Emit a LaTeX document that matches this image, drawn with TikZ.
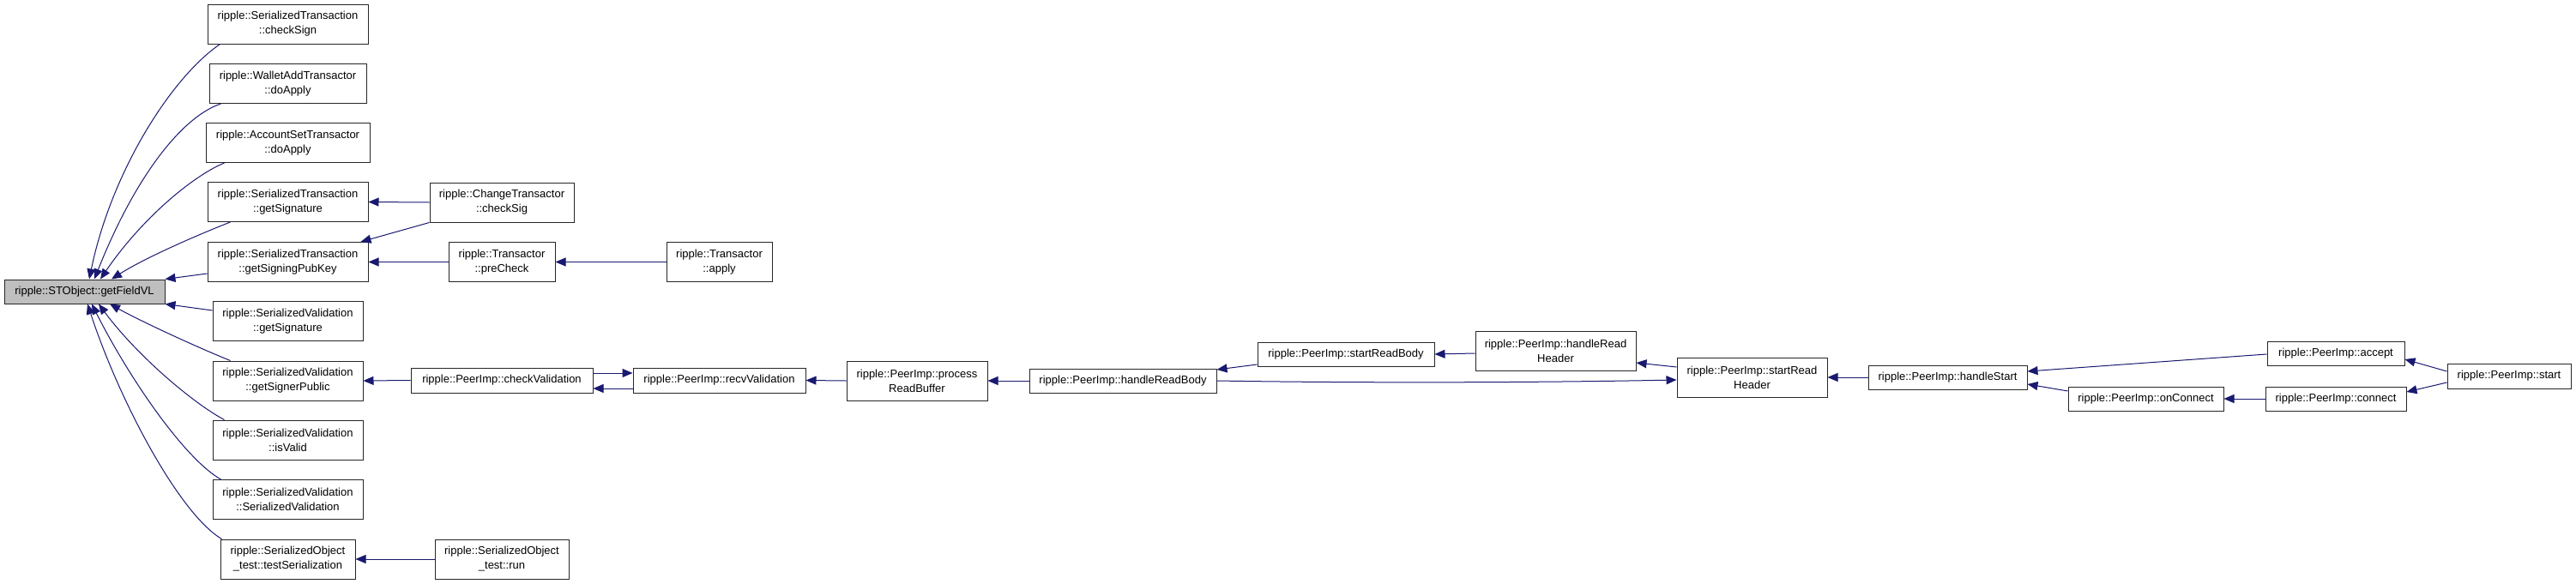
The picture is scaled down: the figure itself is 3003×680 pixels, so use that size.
\documentclass[tikz,border=0pt]{standalone}
\usepackage{fontspec}
\setmainfont{Liberation Sans}
\usetikzlibrary{arrows.meta}
\definecolor{edgecol}{RGB}{25,25,112}
\definecolor{nodegray}{RGB}{191,191,191}
\begin{document}
\begin{tikzpicture}[x=1pt,y=-1pt,
  box/.style={draw=black!85, line width=1pt, inner sep=0pt, align=center,
    font=\fontsize{13}{17}\selectfont},
  edge/.style={draw=edgecol, line width=1pt, -{Triangle[length=12pt,width=10pt]}}]
\useasboundingbox (0,0) rectangle (3003,680);

% column 0
\node[box, fill=nodegray, minimum width=187pt, minimum height=28pt] (getFieldVL) at (98.5,340) {ripple::STObject::getFieldVL};

% column 1
\node[box, minimum width=187pt, minimum height=46pt] (checkSign) at (335.5,28) {ripple::SerializedTransaction\\::checkSign};
\node[box, minimum width=183pt, minimum height=46pt] (walletAdd) at (335.5,97.5) {ripple::WalletAddTransactor\\::doApply};
\node[box, minimum width=191pt, minimum height=46pt] (accountSet) at (335.5,166.5) {ripple::AccountSetTransactor\\::doApply};
\node[box, minimum width=187pt, minimum height=46pt] (stGetSig) at (335.5,235.5) {ripple::SerializedTransaction\\::getSignature};
\node[box, minimum width=187pt, minimum height=46pt] (getSigningPubKey) at (335.5,305.5) {ripple::SerializedTransaction\\::getSigningPubKey};
\node[box, minimum width=175pt, minimum height=46pt] (svGetSig) at (335.5,374.5) {ripple::SerializedValidation\\::getSignature};
\node[box, minimum width=175pt, minimum height=46pt] (getSignerPublic) at (335.5,444) {ripple::SerializedValidation\\::getSignerPublic};
\node[box, minimum width=175pt, minimum height=46pt] (isValid) at (335.5,513) {ripple::SerializedValidation\\::isValid};
\node[box, minimum width=175pt, minimum height=46pt] (svCtor) at (335.5,582.5) {ripple::SerializedValidation\\::SerializedValidation};
\node[box, minimum width=157pt, minimum height=46pt] (testSer) at (335.5,652) {ripple::SerializedObject\\\_test::testSerialization};

% column 2
\node[box, minimum width=168pt, minimum height=46pt] (changeCheckSig) at (585,236) {ripple::ChangeTransactor\\::checkSig};
\node[box, minimum width=124pt, minimum height=46pt] (preCheck) at (585,305.5) {ripple::Transactor\\::preCheck};
\node[box, minimum width=212pt, minimum height=29pt] (checkValidation) at (585,443.5) {ripple::PeerImp::checkValidation};
\node[box, minimum width=156pt, minimum height=46pt] (run) at (585,652) {ripple::SerializedObject\\\_test::run};

% column 3
\node[box, minimum width=123pt, minimum height=46pt] (apply) at (838.5,305.5) {ripple::Transactor\\::apply};
\node[box, minimum width=201pt, minimum height=29pt] (recvValidation) at (838.5,443.5) {ripple::PeerImp::recvValidation};

% further columns
\node[box, minimum width=164pt, minimum height=46pt] (processReadBuffer) at (1069,444) {ripple::PeerImp::process\\ReadBuffer};
\node[box, minimum width=218pt, minimum height=28pt] (handleReadBody) at (1309,444) {ripple::PeerImp::handleReadBody};
\node[box, minimum width=206pt, minimum height=28pt] (startReadBody) at (1569,413) {ripple::PeerImp::startReadBody};
\node[box, minimum width=187pt, minimum height=46pt] (handleReadHeader) at (1813.5,409) {ripple::PeerImp::handleRead\\Header};
\node[box, minimum width=175pt, minimum height=46pt] (startReadHeader) at (2042.5,440) {ripple::PeerImp::startRead\\Header};
\node[box, minimum width=185pt, minimum height=28pt] (handleStart) at (2270.5,440) {ripple::PeerImp::handleStart};
\node[box, minimum width=181pt, minimum height=28pt] (onConnect) at (2501.5,465) {ripple::PeerImp::onConnect};
\node[box, minimum width=160pt, minimum height=28pt] (accept) at (2723,412) {ripple::PeerImp::accept};
\node[box, minimum width=164pt, minimum height=28pt] (connect) at (2723,465) {ripple::PeerImp::connect};
\node[box, minimum width=144pt, minimum height=29pt] (start) at (2925,438.5) {ripple::PeerImp::start};

% edges into getFieldVL
\draw[edge] ([xshift=15pt]checkSign.south west) .. controls (200,90) and (130,200) .. ([xshift=5.5pt]getFieldVL.north);
\draw[edge] ([xshift=14pt]walletAdd.south west) .. controls (215,135) and (160,200) .. ([xshift=11.5pt]getFieldVL.north);
\draw[edge] ([xshift=22pt]accountSet.south west) .. controls (225,205) and (165,255) .. ([xshift=18.5pt]getFieldVL.north);
\draw[edge] ([xshift=27pt]stGetSig.south west) .. controls (235,272) and (170,300) .. ([xshift=31.5pt]getFieldVL.north);
\draw[edge] ([yshift=-13.5pt]getSigningPubKey.west) -- (getFieldVL.north east);
\draw[edge] ([yshift=12.5pt]svGetSig.west) -- (getFieldVL.south east);
\draw[edge] ([xshift=21pt]getSignerPublic.north west) .. controls (230,405) and (165,375) .. ([xshift=29.5pt]getFieldVL.south);
\draw[edge] ([xshift=14pt]isValid.north west) .. controls (225,470) and (160,415) .. ([xshift=16.5pt]getFieldVL.south);
\draw[edge] ([xshift=10pt]svCtor.north west) .. controls (215,535) and (150,440) .. ([xshift=8.5pt]getFieldVL.south);
\draw[edge] ([xshift=2pt]testSer.north west) .. controls (210,600) and (140,470) .. ([xshift=3.5pt]getFieldVL.south);

% other edges
\draw[edge] (changeCheckSig.west) -- (stGetSig.east);
\draw[edge] (changeCheckSig.south west) -- ([xshift=-9pt]getSigningPubKey.north east);
\draw[edge] (preCheck.west) -- (getSigningPubKey.east);
\draw[edge] (apply.west) -- (preCheck.east);
\draw[edge] (checkValidation.west) -- (getSignerPublic.east);
\draw[edge] ([yshift=8.5pt]checkValidation.east) -- ([yshift=8.5pt]recvValidation.west);
\draw[edge] ([yshift=-9.5pt]recvValidation.west) -- ([yshift=-9.5pt]checkValidation.east);
\draw[edge] (run.west) -- (testSer.east);
\draw[edge] (processReadBuffer.west) -- (recvValidation.east);
\draw[edge] (handleReadBody.west) -- (processReadBuffer.east);
\draw[edge] ([yshift=-12pt]startReadBody.west) -- ([yshift=13pt]handleReadBody.east);
\draw[edge] ([yshift=-3pt]handleReadHeader.west) -- (startReadBody.east);
\draw[edge] ([yshift=12pt]startReadHeader.west) -- ([yshift=-14pt]handleReadHeader.east);
\draw[edge] (handleReadBody.east) .. controls (1600,447) and (1800,446) .. ([yshift=-3pt]startReadHeader.west);
\draw[edge] (handleStart.west) -- (startReadHeader.east);
\draw[edge] ([yshift=-1pt]accept.west) -- ([yshift=7pt]handleStart.east);
\draw[edge] ([yshift=9pt]onConnect.west) -- ([yshift=-8pt]handleStart.east);
\draw[edge] (connect.west) -- (onConnect.east);
\draw[edge] ([yshift=5.5pt]start.west) -- ([yshift=-7pt]accept.east);
\draw[edge] ([yshift=-7.5pt]start.west) -- ([yshift=8pt]connect.east);
\end{tikzpicture}
\end{document}
